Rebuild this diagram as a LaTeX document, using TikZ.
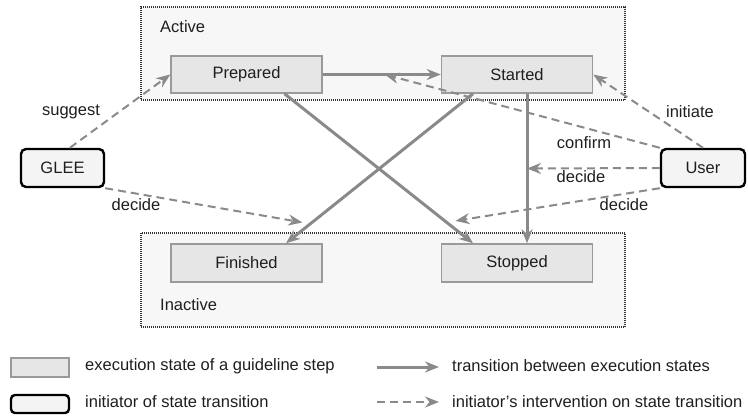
\documentclass[tikz,border=0pt]{standalone}
\usepackage{fontspec}
\setmainfont{Liberation Sans}
\usetikzlibrary{arrows.meta}
\definecolor{stateFill}{HTML}{E6E6E6}
\definecolor{stateLine}{HTML}{9A9A9A}
\definecolor{regionFill}{HTML}{F7F7F7}
\definecolor{regionLine}{HTML}{333333}
\definecolor{arrowGray}{HTML}{8A8A8A}
\definecolor{initFill}{HTML}{F4F4F4}
\definecolor{labelText}{HTML}{1E1E1E}

\begin{document}
\begin{tikzpicture}[x=1pt,y=-1pt,
  font=\fontsize{16.5}{19}\selectfont,
  region/.style={draw=regionLine, fill=regionFill, line width=1.3pt,
    dash pattern=on 1pt off 1pt, inner sep=0pt},
  statebox/.style={draw=stateLine, fill=stateFill, line width=1.5pt,
    minimum width=151pt, minimum height=37pt, inner sep=0pt, text=labelText},
  initiator/.style={draw=black, fill=initFill, line width=2.4pt,
    rounded corners=5pt, minimum width=83pt, minimum height=38pt,
    inner sep=0pt, text=labelText},
  tip/.style={-{Stealth[length=14pt,width=11pt,inset=4.5pt]}},
  trans/.style={tip, draw=arrowGray, line width=3pt},
  interv/.style={tip, draw=arrowGray, line width=2pt, dash pattern=on 8pt off 5pt},
  lbl/.style={inner sep=0pt, text=labelText}
]
\useasboundingbox (0,0) rectangle (748,416);

% regions
\node[region, minimum width=484pt, minimum height=93pt] (active) at (383,53.5) {};
\node[region, minimum width=484pt, minimum height=94pt] (inactive) at (383,280) {};
\node[lbl, anchor=west] (activelbl) at (160,27) {Active};
\node[lbl, anchor=west] (inactivelbl) at (160,305) {Inactive};

% execution states
\node[statebox] (prepared) at (246.5,74.5) {Prepared};
\node[statebox] (started)  at (517,74.5)   {Started};
\node[statebox, minimum height=38pt] (finished) at (246.5,263) {Finished};
\node[statebox, minimum height=38pt] (stopped)  at (517,263)   {Stopped};

% initiators
\node[initiator] (glee) at (62.5,168) {GLEE};
\node[initiator, minimum width=84pt] (user) at (703,168) {User};

% transitions between execution states
\draw[trans] (prepared.east) -- (started.west) coordinate[pos=0.525] (ps);
\draw[trans] ([xshift=38pt]prepared.south) -- ([xshift=-44pt]stopped.north)
  coordinate[pos=0.86] (pst);
\draw[trans] ([xshift=-44pt]started.south) -- ([xshift=39.5pt]finished.north)
  coordinate[pos=0.87] (sf);
\draw[trans] ([xshift=10pt]started.south) -- ([xshift=10pt]stopped.north)
  coordinate[pos=0.5] (ss);

% interventions of the initiators
\draw[interv] (glee.70) -- (prepared.west);
\draw[interv, shorten >=8pt] (glee.south east) -- (sf);
\draw[interv] (user.north) -- (started.east);
\draw[interv] (user.north west) -- (ps);
\draw[interv] (user.west) -- (ss);
\draw[interv, shorten >=9pt] (user.south west) -- (pst);

\node[lbl] (suggestlbl) at (71,112) {suggest};
\node[lbl] (gdecidelbl) at (136,205) {decide};
\node[lbl] (initiatelbl) at (690,112) {initiate};
\node[lbl] (confirmlbl) at (584,143) {confirm};
\node[lbl] (udecidelbl) at (581,177) {decide};
\node[lbl] (udecidelblb) at (624,205) {decide};

% legend
\node[statebox, minimum width=58pt, minimum height=19pt] (legstate) at (40,367.5) {};
\node[lbl, anchor=west] (legstatelbl) at (85,366) {execution state of a guideline step};
\node[initiator, minimum width=58pt, minimum height=18pt, rounded corners=4pt] (leginit) at (40,404) {};
\node[lbl, anchor=west] (leginitlbl) at (85,402) {initiator of state transition};
\coordinate (legtransA) at (377,367);
\coordinate (legtransB) at (439,367);
\draw[trans] (legtransA) -- (legtransB);
\node[lbl, anchor=west] (legtranslbl) at (452,366) {transition between execution states};
\coordinate (legintA) at (377,402);
\coordinate (legintB) at (439,402);
\draw[interv] (legintA) -- (legintB);
\node[lbl, anchor=west] (legintlbl) at (452,402) {initiator's intervention on state transition};
\end{tikzpicture}
\end{document}
